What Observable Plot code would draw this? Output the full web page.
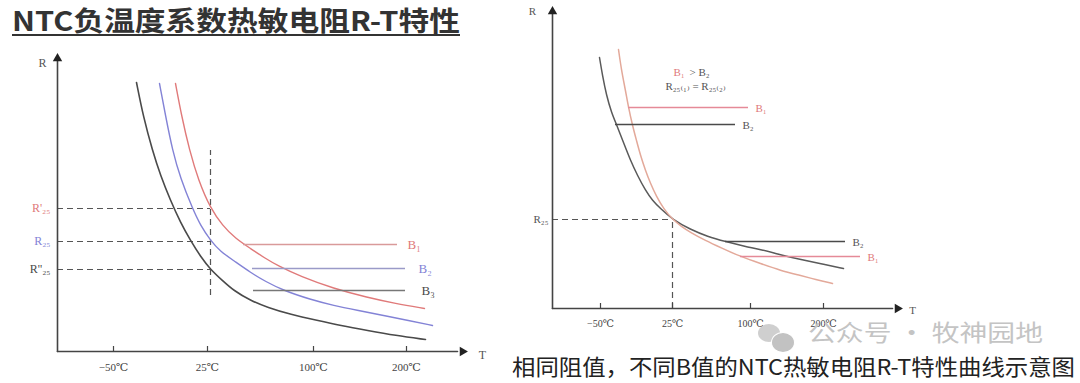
<!DOCTYPE html>
<html><head><meta charset="utf-8">
<script src="https://cdn.jsdelivr.net/npm/d3@7"></script>
<script src="https://cdn.jsdelivr.net/npm/@observablehq/plot@0.6"></script>
<style>
html,body{margin:0;padding:0;background:#fff;}
#wrap{position:relative;width:1080px;height:383px;overflow:hidden;background:#fff;}
#left,#right{position:absolute;top:0;}
#left{left:0;} #right{left:500px;}
#title{position:absolute;left:12px;top:3px;font-family:"Noto Sans CJK SC","Noto Sans",sans-serif;font-weight:700;font-size:27px;line-height:34px;color:#333;text-decoration:underline;text-decoration-thickness:2px;text-underline-offset:3px;white-space:nowrap;transform-origin:left top;}
#caption{position:absolute;left:512px;top:353px;font-family:"Noto Sans CJK SC","Noto Sans",sans-serif;font-size:22px;line-height:24px;color:#222;white-space:nowrap;transform-origin:left top;}
#wm{position:absolute;left:808px;top:320px;font-family:"Noto Sans CJK SC",sans-serif;font-size:23px;line-height:23px;color:#c4c4c4;white-space:nowrap;transform-origin:left top;}
.bub{position:absolute;border-radius:50%;background:#cfcfcf;}
</style></head>
<body><div id="wrap">
<div id="left"></div><div id="right"></div>
<div id="title">NTC负温度系数热敏电阻R-T特性</div>
<div class="bub" style="left:758px;top:324px;width:22px;height:18px;"></div>
<div class="bub" style="left:771px;top:332px;width:22px;height:19px;background:#c2c2c2;border:1px solid #fff;"></div>
<div id="wm">公众号 · 牧神园地</div>
<div id="caption">相同阻值，不同B值的NTC热敏电阻R-T特性曲线示意图</div>
</div>
<script>
// ---------- data (diagram units) ----------
const leftTickLabels = ["−50℃", "25℃", "100℃", "200℃"];
const leftTickPos = [56, 150, 256, 349];
const leftR25Levels = [143, 110, 82];          // R'25, R25, R''25
const leftR25Labels = ["R'₂₅", "R₂₅", "R''₂₅"];
const leftRefT = 153;
const leftBLevels = [107, 83, 61];
const leftBStart = [186, 195, 196];
const leftBEnd = [340, 348, 348];
const leftBLabels = ["B₁", "B₂", "B₃"];
const leftCurveB3 = [[79,269],[86,234],[95,201],[103,176],[113,151],[123,129],[133,111],[143,95],[153,82],[165,71],[176,61],[193,51],[210,44],[233,37],[260,31],[283,26],[310,21],[338,16],[368,12]];
const leftCurveB2 = [[102,268],[108,236],[115,201],[123,173],[135,143],[143,126],[153,111],[163,100],[176,91],[193,79],[208,70],[226,61],[253,52],[276,46],[301,41],[326,36],[351,31],[375,26]];
const leftCurveB1 = [[118,268],[124,236],[132,201],[141,171],[153,143],[165,126],[178,113],[193,103],[208,93],[220,86],[243,75],[276,63],[310,54],[338,48],[367,43]];

const rightTickLabels = ["−50℃", "25℃", "100℃", "200℃"];
const rightTickPos = [48, 120, 198, 271];
const rightR25 = 89;
const rightRefT = 120;
const rightCurveB2 = [[47,251],[50,233],[54,213],[59,196],[64,184],[71,166],[78,148],[85,133],[93,118],[100,108],[108,100],[120,89],[138,79],[155,72],[173,67],[193,62],[208,59],[231,53],[248,49],[268,45],[291,40]];
const rightCurveB1 = [[66,259],[69,238],[73,218],[76,201],[80,183],[84,168],[88,153],[93,138],[98,125],[104,112],[111,100],[120,89],[129,82],[138,76],[153,68],[168,61],[188,52],[208,45],[228,38],[248,33],[263,29],[280,25]];
const rightUpperBLevels = [201, 184];
const rightUpperBStart = [76, 63];
const rightUpperBEnd = [196, 183];
const rightLowerBLevels = [67, 52];
const rightLowerBStart = [173, 188];
const rightLowerBEnd = [293, 308];
const rightBLabels = ["B₁", "B₂"];

// ---------- styles ----------
const AX = "#444", DARK = "#4a4a4a", BLUE = "#8383d6", RED = "#e07a7a", PINK = "#e3a99a", PINKLINE = "#e58a98";
const SERIF = "Liberation Serif, DejaVu Serif, serif";
const CURVE = "basis";
const xy = {x: d => d[0], y: d => d[1]};

// ---------- left panel ----------
const leftColors = [RED, BLUE, DARK];
const leftLineColors = ["#d99a9a", "#9a9ac8", "#777"];
const left = Plot.plot({
  width: 500, height: 383, axis: null,
  x: {domain: [0, 405], range: [57, 462]},
  y: {domain: [0, 295], range: [351, 56]},
  marks: [
    Plot.ruleY(leftR25Levels, {y: d => d, x1: 0, x2: leftRefT, stroke: "#555", strokeWidth: 1.2, strokeDasharray: "6,4"}),
    Plot.ruleX([leftRefT], {x: d => d, y1: 56, y2: 201, stroke: "#555", strokeWidth: 1.2, strokeDasharray: "6,4"}),
    Plot.line(leftCurveB3, {...xy, curve: CURVE, stroke: DARK, strokeWidth: 1.6}),
    Plot.line(leftCurveB2, {...xy, curve: CURVE, stroke: BLUE, strokeWidth: 1.4}),
    Plot.line(leftCurveB1, {...xy, curve: CURVE, stroke: RED, strokeWidth: 1.4}),
    Plot.ruleY(leftBLevels, {y: d => d, x1: (d, i) => leftBStart[i], x2: (d, i) => leftBEnd[i], stroke: (d, i) => leftLineColors[i], strokeWidth: 1.4}),
    Plot.text(leftBLevels, {y: d => d, x: (d, i) => leftBEnd[i] + 10 + i * 3, text: (d, i) => leftBLabels[i], fill: (d, i) => leftColors[i], textAnchor: "start", fontFamily: SERIF, fontSize: 13}),
    Plot.text(leftR25Levels, {y: d => d, x: -7, text: (d, i) => leftR25Labels[i], fill: (d, i) => leftColors[i], textAnchor: "end", fontFamily: SERIF, fontSize: 12}),
    Plot.line([[0, 0], [400, 0]], {...xy, stroke: AX, strokeWidth: 1.6}),
    Plot.line([[0, 0], [0, 290]], {...xy, stroke: AX, strokeWidth: 1.6}),
    Plot.dot([[405, 0]], {...xy, symbol: "triangle", r: 3.5, fill: "#222", rotate: 90}),
    Plot.dot([[0, 293]], {...xy, symbol: "triangle", r: 3.5, fill: "#222"}),
    Plot.ruleX(leftTickPos, {x: d => d, y1: 0, y2: 5, stroke: AX, strokeWidth: 1.2}),
    Plot.text(leftTickPos, {x: d => d, y: -16, text: (d, i) => leftTickLabels[i], fill: "#444", fontFamily: SERIF, fontSize: 11}),
    Plot.text(["R"], {x: -15, y: 288, text: d => d, fill: "#555", fontFamily: SERIF, fontSize: 12}),
    Plot.text(["T"], {x: 425, y: -4, text: d => d, fill: "#555", fontFamily: SERIF, fontSize: 12})
  ]
});
document.getElementById("left").append(left);

// ---------- right panel ----------
const rColors = [PINKLINE, DARK];
const right = Plot.plot({
  width: 580, height: 383, axis: null,
  x: {domain: [0, 345], range: [52, 397]},
  y: {domain: [0, 299], range: [308, 9]},
  marks: [
    Plot.ruleY([rightR25], {y: d => d, x1: 0, x2: rightRefT, stroke: "#555", strokeWidth: 1.2, strokeDasharray: "6,4"}),
    Plot.ruleX([rightRefT], {x: d => d, y1: 0, y2: rightR25, stroke: "#555", strokeWidth: 1.2, strokeDasharray: "6,4"}),
    Plot.line(rightCurveB2, {...xy, curve: CURVE, stroke: "#5a5a5a", strokeWidth: 1.5}),
    Plot.line(rightCurveB1, {...xy, curve: CURVE, stroke: PINK, strokeWidth: 1.5}),
    Plot.ruleY(rightUpperBLevels, {y: d => d, x1: (d, i) => rightUpperBStart[i], x2: (d, i) => rightUpperBEnd[i], stroke: (d, i) => rColors[i], strokeWidth: 1.4}),
    Plot.text(rightUpperBLevels, {y: d => d - 1, x: (d, i) => rightUpperBEnd[i] + 7, text: (d, i) => rightBLabels[i], fill: (d, i) => i ? "#555" : RED, textAnchor: "start", fontFamily: SERIF, fontSize: 11}),
    Plot.ruleY(rightLowerBLevels, {y: d => d, x1: (d, i) => rightLowerBStart[i], x2: (d, i) => rightLowerBEnd[i], stroke: (d, i) => i ? PINKLINE : DARK, strokeWidth: 1.4}),
    Plot.text(rightLowerBLevels, {y: d => d - 1, x: (d, i) => rightLowerBEnd[i] + 7, text: (d, i) => rightBLabels[1 - i], fill: (d, i) => i ? RED : "#555", textAnchor: "start", fontFamily: SERIF, fontSize: 11}),
    Plot.text(["B₁"], {x: 121, y: 236, text: d => d, fill: RED, textAnchor: "start", fontFamily: SERIF, fontSize: 11}),
    Plot.text(["> B₂"], {x: 137, y: 236, text: d => d, fill: "#555", textAnchor: "start", fontFamily: SERIF, fontSize: 11}),
    Plot.text(["R₂₅₍₁₎ = R₂₅₍₂₎"], {x: 143, y: 222, text: d => d, fill: "#555", fontFamily: SERIF, fontSize: 11}),
    Plot.line([[0, 0], [340, 0]], {...xy, stroke: AX, strokeWidth: 1.6}),
    Plot.line([[0, 0], [0, 294]], {...xy, stroke: AX, strokeWidth: 1.6}),
    Plot.dot([[345, 0]], {...xy, symbol: "triangle", r: 3.5, fill: "#222", rotate: 90}),
    Plot.dot([[0, 297]], {...xy, symbol: "triangle", r: 3.5, fill: "#222"}),
    Plot.ruleX(rightTickPos, {x: d => d, y1: 0, y2: 5, stroke: AX, strokeWidth: 1.2}),
    Plot.text(rightTickPos, {x: d => d, y: -15, text: (d, i) => rightTickLabels[i], fill: "#444", fontFamily: SERIF, fontSize: 10}),
    Plot.text(["R₂₅"], {x: -4, y: rightR25, text: d => d, fill: "#555", textAnchor: "end", fontFamily: SERIF, fontSize: 11}),
    Plot.text(["R"], {x: -20, y: 297, text: d => d, fill: "#555", fontFamily: SERIF, fontSize: 11}),
    Plot.text(["T"], {x: 360, y: -2, text: d => d, fill: "#555", fontFamily: SERIF, fontSize: 11})
  ]
});
document.getElementById("right").append(right);

// fit text widths to the reference
function fit(id, w) {
  const el = document.getElementById(id);
  const r = el.getBoundingClientRect().width;
  if (r > 0) el.style.transform = `scaleX(${w / r})`;
}
fit("title", 448);
fit("caption", 563);
fit("wm", 235);
</script>
</body></html>
